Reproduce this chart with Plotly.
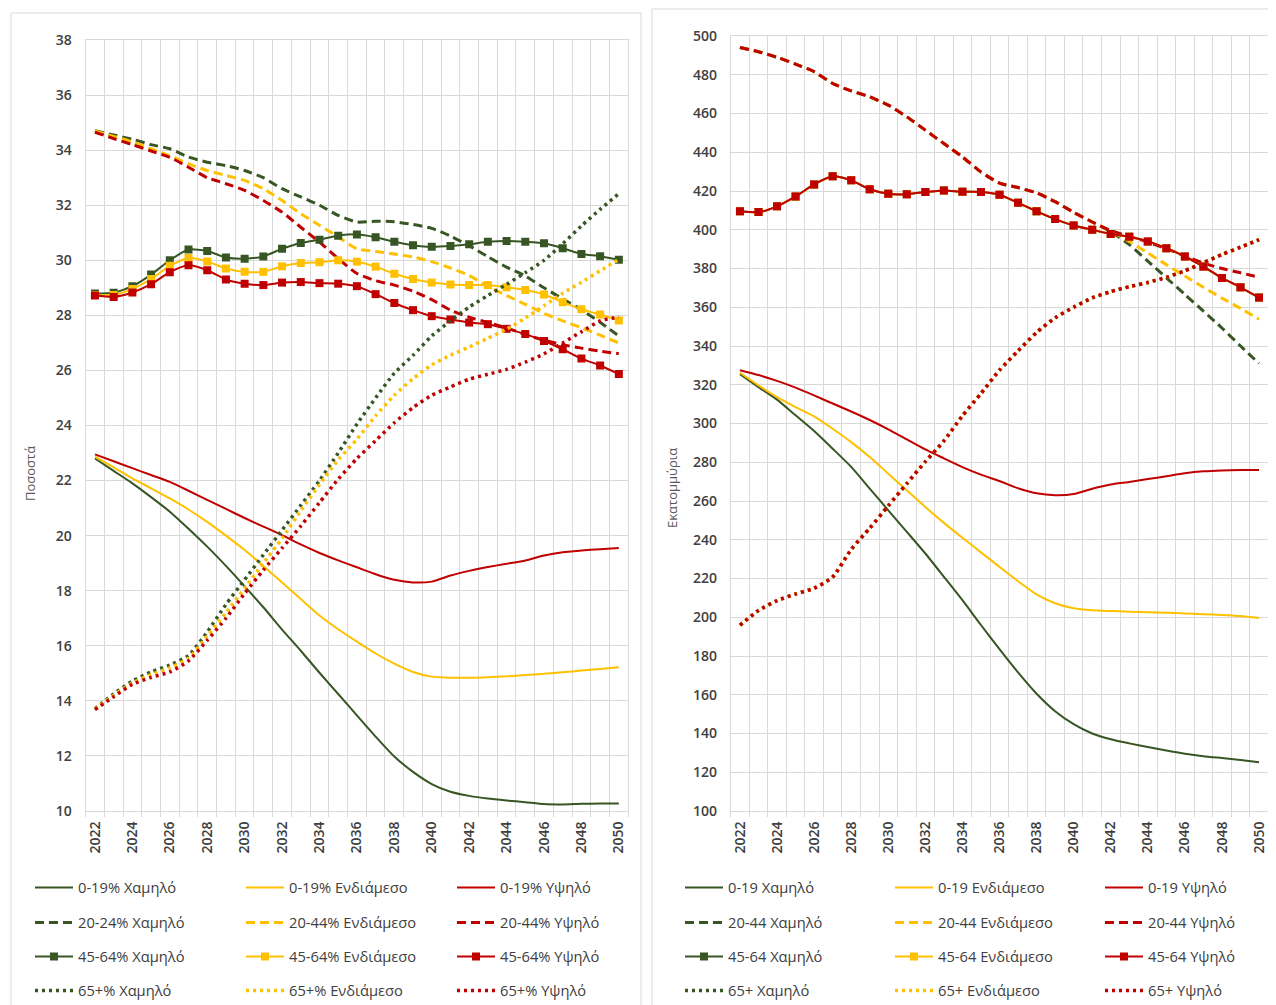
import plotly.graph_objects as go

# page body adds an 8px margin; the figure is sized and positioned to compensate
OFF = 8
W, H = 1276 - OFF, 1005 - OFF
years = list(range(2022, 2051))
year_ticks = list(range(2022, 2051, 2))

# ---------- Left panel: percentages ----------
pct_0_19_low = [22.8, 22.35, 21.9, 21.4, 20.87, 20.25, 19.6, 18.9, 18.16, 17.4, 16.59, 15.82, 15.02, 14.25, 13.47,
                12.7, 11.98, 11.42, 10.98, 10.7, 10.55, 10.45, 10.38, 10.32, 10.25, 10.24, 10.26, 10.27, 10.27]
pct_0_19_mid = [22.87, 22.48, 22.08, 21.72, 21.35, 20.95, 20.5, 20.0, 19.48, 18.9, 18.3, 17.7, 17.1, 16.6, 16.15,
                15.72, 15.35, 15.05, 14.88, 14.84, 14.84, 14.86, 14.89, 14.94, 14.98, 15.04, 15.1, 15.16, 15.22]
pct_0_19_high = [22.95, 22.7, 22.45, 22.2, 21.95, 21.63, 21.3, 20.97, 20.64, 20.33, 20.02, 19.68, 19.37, 19.1, 18.85,
                 18.6, 18.4, 18.3, 18.33, 18.55, 18.72, 18.86, 18.98, 19.1, 19.28, 19.4, 19.46, 19.51, 19.55]
pct_20_44_low = [34.71, 34.55, 34.4, 34.2, 34.05, 33.75, 33.56, 33.44, 33.26, 33.0, 32.6, 32.3, 32.0, 31.63, 31.39,
                 31.42, 31.4, 31.3, 31.16, 30.88, 30.53, 30.13, 29.75, 29.43, 29.0, 28.6, 28.2, 27.75, 27.25]
pct_20_44_mid = [34.7, 34.5, 34.3, 34.05, 33.8, 33.5, 33.26, 33.08, 32.9, 32.6, 32.17, 31.69, 31.27, 30.85, 30.42,
                 30.32, 30.23, 30.12, 29.95, 29.72, 29.45, 29.05, 28.72, 28.4, 28.07, 27.8, 27.55, 27.28, 27.0]
pct_20_44_high = [34.65, 34.42, 34.2, 33.97, 33.74, 33.38, 33.0, 32.78, 32.54, 32.17, 31.75, 31.2, 30.66, 30.06, 29.52,
                  29.26, 29.1, 28.88, 28.57, 28.19, 27.93, 27.74, 27.55, 27.3, 27.1, 26.93, 26.81, 26.7, 26.61]
pct_45_64_low = [28.79, 28.82, 29.06, 29.48, 30.0, 30.39, 30.34, 30.1, 30.06, 30.14, 30.42, 30.63, 30.75, 30.89, 30.94,
                 30.84, 30.67, 30.55, 30.49, 30.52, 30.58, 30.67, 30.7, 30.67, 30.62, 30.44, 30.23, 30.15, 30.02]
pct_45_64_mid = [28.74, 28.74, 28.96, 29.32, 29.8, 30.08, 29.96, 29.7, 29.58, 29.58, 29.78, 29.9, 29.93, 30.0, 29.95,
                 29.77, 29.51, 29.32, 29.19, 29.12, 29.1, 29.1, 29.02, 28.92, 28.76, 28.48, 28.22, 28.03, 27.81]
pct_45_64_high = [28.72, 28.67, 28.83, 29.13, 29.57, 29.82, 29.64, 29.3, 29.15, 29.1, 29.19, 29.21, 29.17, 29.15, 29.06,
                  28.77, 28.45, 28.19, 27.97, 27.85, 27.74, 27.68, 27.51, 27.32, 27.07, 26.77, 26.43, 26.18, 25.87]
pct_65_low = [13.72, 14.25, 14.72, 15.05, 15.3, 15.65, 16.5, 17.5, 18.4, 19.3, 20.2, 21.1, 22.0, 23.0, 24.05,
              25.0, 25.9, 26.55, 27.25, 27.8, 28.3, 28.72, 29.13, 29.55, 30.0, 30.6, 31.25, 31.85, 32.42]
pct_65_mid = [13.7, 14.2, 14.65, 14.95, 15.2, 15.55, 16.35, 17.2, 18.1, 19.0, 19.9, 20.9, 21.85, 22.75, 23.5,
              24.35, 25.1, 25.7, 26.2, 26.55, 26.85, 27.17, 27.5, 27.9, 28.35, 28.8, 29.2, 29.62, 30.03]
pct_65_high = [13.68, 14.15, 14.6, 14.85, 15.05, 15.45, 16.2, 17.0, 17.9, 18.75, 19.55, 20.35, 21.2, 22.05, 22.8,
               23.45, 24.1, 24.65, 25.1, 25.4, 25.68, 25.86, 26.04, 26.3, 26.6, 27.0, 27.4, 27.8, 27.94]

# ---------- Right panel: millions ----------
mil_0_19_low = [325.5, 318.8, 312.3, 304.2, 296.1, 287.0, 277.6, 266.4, 255.2, 244.1, 232.9, 220.9, 208.8, 196.0, 183.5,
                171.5, 160.5, 151.5, 144.8, 140.0, 137.0, 134.9, 133.0, 131.2, 129.6, 128.3, 127.3, 126.3, 125.2]
mil_0_19_mid = [326.2, 319.7, 313.6, 308.5, 303.7, 297.3, 290.4, 282.7, 274.1, 265.5, 256.9, 248.7, 241.0, 233.5, 226.0,
                218.6, 211.8, 207.2, 204.6, 203.6, 203.2, 202.9, 202.6, 202.3, 202.0, 201.6, 201.2, 200.6, 199.6]
mil_0_19_high = [327.5, 325.0, 322.0, 318.5, 314.5, 310.3, 306.2, 301.8, 297.0, 291.8, 286.6, 282.0, 277.5, 273.6, 270.3,
                 266.6, 264.0, 263.0, 263.6, 266.3, 268.5, 269.8, 271.3, 272.8, 274.3, 275.3, 275.8, 276.0, 276.0]
mil_20_44_low = [494.1, 491.9, 489.0, 485.5, 481.6, 475.5, 471.7, 468.6, 464.3, 458.3, 451.4, 444.5, 437.6, 429.8, 424.1,
                 421.8, 419.0, 414.5, 409.0, 404.0, 399.0, 392.3, 383.8, 375.2, 366.6, 358.0, 349.3, 340.0, 331.0]
mil_20_44_mid = [494.1, 491.9, 489.0, 485.5, 481.6, 475.5, 471.7, 468.6, 464.3, 458.3, 451.4, 444.5, 437.6, 429.8, 424.1,
                 421.8, 419.0, 414.5, 409.0, 404.0, 399.4, 394.0, 388.0, 382.0, 376.1, 370.3, 364.7, 359.4, 353.8]
mil_20_44_high = [494.1, 491.9, 489.0, 485.5, 481.6, 475.5, 471.7, 468.6, 464.3, 458.3, 451.4, 444.5, 437.6, 429.8, 424.1,
                  421.8, 419.0, 414.5, 409.0, 404.0, 399.6, 396.6, 393.6, 390.2, 386.5, 382.8, 380.0, 377.8, 375.5]
mil_45_64_low = [409.5, 409.1, 412.1, 417.2, 423.4, 427.6, 425.5, 420.9, 418.6, 418.3, 419.5, 420.3, 419.6, 419.5, 418.1,
                 413.9, 409.5, 405.5, 402.2, 400.0, 397.8, 396.4, 394.0, 390.5, 386.2, 381.0, 375.1, 370.3, 365.0]
mil_45_64_mid = list(mil_45_64_low)
mil_45_64_high = list(mil_45_64_low)
mil_65_low = [195.9, 203.5, 208.6, 212.0, 215.0, 220.8, 235.0, 246.0, 257.5, 269.0, 280.3, 291.0, 304.0, 315.5, 327.5,
              337.5, 347.0, 354.5, 360.0, 364.8, 368.1, 370.6, 372.8, 375.4, 378.8, 383.0, 387.2, 391.0, 394.9]
mil_65_mid = list(mil_65_low)
mil_65_high = list(mil_65_low)

colors = ["#375623", "#FFC000", "#C00000"]

left_names = [["0-19% Χαμηλό", "0-19% Ενδιάμεσο", "0-19% Υψηλό"],
              ["20-24% Χαμηλό", "20-44% Ενδιάμεσο", "20-44% Υψηλό"],
              ["45-64% Χαμηλό", "45-64% Ενδιάμεσο", "45-64% Υψηλό"],
              ["65+% Χαμηλό", "65+% Ενδιάμεσο", "65+% Υψηλό"]]
right_names = [["0-19 Χαμηλό", "0-19 Ενδιάμεσο", "0-19 Υψηλό"],
               ["20-44 Χαμηλό", "20-44 Ενδιάμεσο", "20-44 Υψηλό"],
               ["45-64 Χαμηλό", "45-64 Ενδιάμεσο", "45-64 Υψηλό"],
               ["65+ Χαμηλό", "65+ Ενδιάμεσο", "65+ Υψηλό"]]
left_data = [[pct_0_19_low, pct_0_19_mid, pct_0_19_high],
             [pct_20_44_low, pct_20_44_mid, pct_20_44_high],
             [pct_45_64_low, pct_45_64_mid, pct_45_64_high],
             [pct_65_low, pct_65_mid, pct_65_high]]
right_data = [[mil_0_19_low, mil_0_19_mid, mil_0_19_high],
              [mil_20_44_low, mil_20_44_mid, mil_20_44_high],
              [mil_45_64_low, mil_45_64_mid, mil_45_64_high],
              [mil_65_low, mil_65_mid, mil_65_high]]

styles = [dict(width=2, dash="solid", markers=False),
          dict(width=3, dash="9px,5px", markers=False),
          dict(width=2, dash="solid", markers=True),
          dict(width=3.5, dash="3px,4px", markers=False)]

FONT = "Open Sans"
TXT = "#404040"
GRID = "#d9d9d9"

fig = go.Figure()

def px_x(p):
    return (p - OFF) / W

def px_y(p):
    return 1 - (p - OFF) / H

for panel, (names, data, xa, ya, legbase) in enumerate([
        (left_names, left_data, "x", "y", 1),
        (right_names, right_data, "x2", "y2", 5)]):
    for g in range(4):
        st = styles[g]
        leg = "legend" if (legbase + g) == 1 else "legend%d" % (legbase + g)
        for s in range(3):
            fig.add_trace(go.Scatter(
                x=years, y=data[g][s], name=names[g][s],
                xaxis=xa, yaxis=ya, legend=leg,
                legendwidth=(158 if panel == 0 else 157) if s < 2 else 110,
                mode="lines+markers" if st["markers"] else "lines",
                line=dict(color=colors[s], width=st["width"], dash=st["dash"],
                          shape="spline", smoothing=0.6),
                marker=dict(symbol="square", size=8, color=colors[s]) if st["markers"] else None,
                hoverinfo="skip",
            ))

xcommon = dict(range=[2021.5, 2050.5], tickmode="array", tickvals=year_ticks,
               ticktext=[str(y) for y in year_ticks], tickangle=-90,
               showgrid=False, ticks="", showline=True, linecolor=GRID, linewidth=1, mirror=True,
               minor=dict(tick0=2021.5, dtick=1, showgrid=True, gridcolor=GRID, gridwidth=1,
                          ticks="outside", ticklen=5, tickcolor=GRID),
               ticklabelstandoff=4,
               tickfont=dict(family=FONT, size=14, color=TXT, weight=600), zeroline=False, fixedrange=True)
ycommon = dict(showgrid=True, gridcolor=GRID, gridwidth=1, showline=True, linecolor=GRID, linewidth=1,
               mirror=True, ticks="", zeroline=False, tickfont=dict(family=FONT, size=14, color=TXT, weight=600),
               ticklabelstandoff=10, fixedrange=True)

fig.update_layout(
    width=W, height=H, margin=dict(l=0, r=0, t=0, b=0, autoexpand=False),
    paper_bgcolor="white", plot_bgcolor="white",
    font=dict(family=FONT, color=TXT),
    xaxis=dict(domain=[px_x(85.6), px_x(628.2)], anchor="y", **xcommon),
    yaxis=dict(domain=[px_y(811), px_y(40)], anchor="x", range=[10, 38], dtick=2, tick0=10, **ycommon),
    xaxis2=dict(domain=[px_x(730.7), px_x(1268.3)], anchor="y2", **xcommon),
    yaxis2=dict(domain=[px_y(811), px_y(36)], anchor="x2", range=[100, 500], dtick=20, tick0=100, **ycommon),
)

row_y = [888, 923, 957, 991]
for panel, x0 in enumerate([30, 680]):
    for g in range(4):
        idx = panel * 4 + g + 1
        key = "legend" if idx == 1 else "legend%d" % idx
        fig.update_layout(**{key: dict(
            orientation="h", x=px_x(x0), xanchor="left", y=px_y(row_y[g]), yanchor="middle",
            entrywidthmode="pixels", itemwidth=38,
            bgcolor="rgba(0,0,0,0)", font=dict(family=FONT, size=14.7, color=TXT),
            traceorder="normal", itemclick=False, itemdoubleclick=False)})

# panel borders
for (x0, y0, x1, y1) in [(11, 13, 641, 1015), (652, 9, 1290, 1015)]:
    fig.add_shape(type="rect", xref="paper", yref="paper",
                  x0=px_x(x0), x1=px_x(x1), y0=px_y(y1), y1=px_y(y0),
                  line=dict(color=GRID, width=1), fillcolor="rgba(0,0,0,0)", layer="below")

fig.add_annotation(text="Ποσοστά", xref="paper", yref="paper", x=px_x(30), y=px_y(474),
                   xanchor="center", yanchor="middle",
                   textangle=-90, showarrow=False, font=dict(family=FONT, size=13, color="#595959"))
fig.add_annotation(text="Εκατομμύρια", xref="paper", yref="paper", x=px_x(672), y=px_y(488),
                   xanchor="center", yanchor="middle",
                   textangle=-90, showarrow=False, font=dict(family=FONT, size=13, color="#595959"))

fig.write_html("out.html")
